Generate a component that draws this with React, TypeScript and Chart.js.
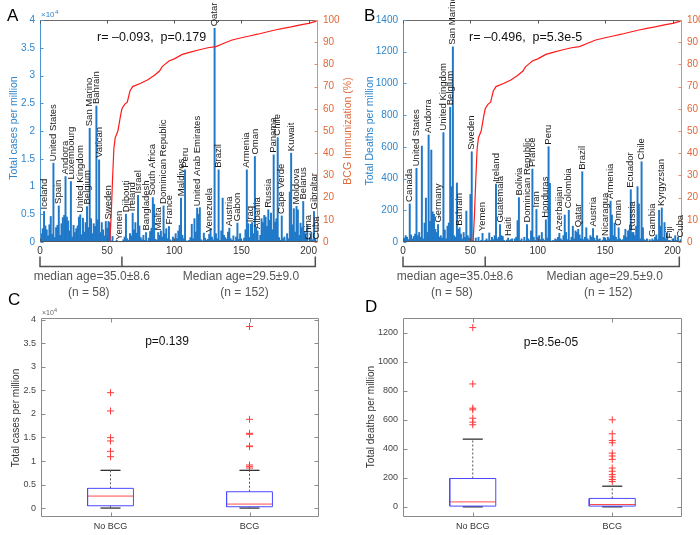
import React, { useEffect, useRef } from 'react';
import { Chart, registerables } from 'chart.js';

Chart.register(...registerables);

const FONT = '"Liberation Sans", Arial, Helvetica, sans-serif';
Chart.defaults.font.family = FONT;

// ---------------- data ----------------
// countries sorted by BCG immunization coverage (rank 0..206)
const casesPerMillion: number[] = [
  300, 1500, 2400, 5500, 2900, 2200, 1100, 3100, 4600, 1400,
  14200, 800, 2600, 3000, 6500, 1200, 3300, 4400, 4800, 11800,
  4500, 3800, 2000, 10900, 900, 3000, 1700, 2400, 2900, 4500,
  4900, 1300, 4300, 1800, 3500, 6400, 2600, 20500, 4200, 1500,
  3300, 2800, 24500, 4000, 14800, 1700, 3500, 2200, 1100, 3700,
  2500, 3700, 3500, 200, 1000, 50, 80, 300, 150, 20,
  100, 60, 400, 900, 5000, 600, 300, 1500, 1100, 5200,
  2200, 3500, 1600, 8400, 2900, 800, 400, 1200, 300, 1700,
  200, 700, 1900, 2500, 8000, 6800, 500, 300, 1700, 1200,
  2000, 900, 6500, 1500, 2400, 600, 2800, 400, 200, 900,
  300, 1500, 600, 2000, 3000, 7900, 1200, 600, 13000, 200,
  150, 300, 800, 3200, 600, 4200, 1800, 6100, 5000, 6200,
  400, 200, 1600, 700, 300, 500, 1400, 2300, 900, 400,
  38500, 1500, 600, 13000, 300, 2000, 7900, 1200, 800, 500,
  1800, 2500, 600, 300, 1100, 200, 900, 3400, 500, 1500,
  400, 100, 700, 2200, 13000, 3300, 800, 3200, 3500, 1500,
  15400, 2600, 2000, 300, 1200, 4200, 3500, 4800, 4500, 2800,
  5800, 3900, 5200, 2200, 15700, 3600, 4200, 18800, 800, 300,
  4700, 600, 900, 200, 1500, 600, 9000, 16000, 3100, 6000,
  1800, 6400, 5800, 1200, 3400, 2600, 7300, 1900, 900, 3000,
  60, 800, 1800, 400, 5500, 600, 150,
];

const deathsPerMillion: number[] = [
  10, 25, 40, 30, 15, 240, 45, 20, 35, 50,
  465, 40, 60, 30, 605, 20, 120, 277, 60, 675,
  130, 580, 190, 175, 80, 60, 110, 30, 40, 25,
  690, 76, 20, 100, 120, 850, 349, 1231, 40, 30,
  372, 80, 90, 50, 20, 60, 30, 195, 40, 25,
  300, 569, 10, 5, 25, 2, 30, 5, 10, 55,
  5, 10, 20, 8, 57, 10, 30, 15, 40, 365,
  20, 30, 110, 40, 35, 10, 5, 12, 25, 10,
  15, 20, 5, 20, 30, 135, 280, 10, 20, 5,
  30, 8, 110, 20, 10, 70, 460, 30, 10, 205,
  30, 40, 15, 60, 20, 10, 140, 25, 601, 370,
  5, 10, 8, 20, 15, 30, 55, 20, 10, 40,
  170, 60, 15, 200, 10, 30, 100, 20, 70, 60,
  80, 45, 20, 443, 15, 30, 90, 20, 10, 40,
  30, 85, 25, 10, 40, 15, 20, 5, 12, 30,
  25, 10, 30, 20, 258, 170, 40, 120, 30, 15,
  90, 20, 10, 15, 40, 80, 30, 70, 75, 330,
  60, 60, 40, 100, 349, 240, 20, 506, 90, 15,
  10, 20, 5, 15, 8, 20, 10, 30, 45, 15,
  200, 100, 215, 30, 123, 20, 60, 10, 10, 5,
  20, 8, 40, 10, 30, 5, 15,
];

const caseLabels: [number, string][] = [
  [3, 'Iceland'], [10, 'United States'], [14, 'Spain'], [19, 'Andorra'], [23, 'Luxembourg'],
  [30, 'United Kingdom'], [35, 'Belgium'], [37, 'San Marino'], [42, 'Bahrain'], [44, 'Vatican'],
  [51, 'Sweden'], [59, 'Yemen'], [64, 'Djibouti'], [69, 'Ireland'], [73, 'Israel'],
  [79, 'Bangladesh'], [84, 'South Africa'], [88, 'Malta'], [92, 'Dominican Republic'], [96, 'France'],
  [105, 'Maldives'], [108, 'Peru'], [117, 'United Arab Emirates'], [126, 'Venezuela'], [130, 'Qatar'],
  [133, 'Brazil'], [141, 'Austria'], [147, 'Gabon'], [154, 'Armenia'], [157, 'Iraq'],
  [160, 'Oman'], [162, 'Albania'], [170, 'Russia'], [174, 'Panama'], [177, 'Chile'],
  [180, 'Cape Verde'], [187, 'Kuwait'], [191, 'Moldova'], [196, 'Belarus'], [200, 'China'],
  [204, 'Gibraltar'], [206, 'Cuba'],
];

const deathLabels: [number, string][] = [
  [5, 'Canada'], [10, 'United States'], [19, 'Andorra'], [26, 'Germany'], [30, 'United Kingdom'],
  [35, 'Belgium'], [37, 'San Marino'], [42, 'Bahrain'], [51, 'Sweden'], [59, 'Yemen'],
  [69, 'Ireland'], [72, 'Guatemala'], [78, 'Haiti'], [86, 'Bolivia'], [92, 'Dominican Republic'],
  [96, 'France'], [99, 'Iran'], [106, 'Honduras'], [108, 'Peru'], [116, 'Azerbaijan'],
  [123, 'Colombia'], [130, 'Qatar'], [133, 'Brazil'], [141, 'Austria'], [150, 'Nicaragua'],
  [154, 'Armenia'], [160, 'Oman'], [169, 'Ecuador'], [170, 'Russia'], [177, 'Chile'],
  [185, 'Gambia'], [192, 'Kyrgyzstan'], [198, 'Fiji'], [206, 'Cuba'],
];

const bcgRank: number[] = [0, 52, 53, 54, 55, 56, 58, 60, 61, 63, 65, 67, 69, 75, 80, 85, 89, 91, 93, 96,
  100, 106, 112, 118, 125, 131, 137, 143, 150, 156, 162, 168, 175, 181, 187, 193, 200, 206];
const bcgCoverage: number[] = [0, 0, 12, 28, 42, 47, 50, 57, 60, 62, 63, 68, 70, 71.5, 73, 75, 77, 79, 80, 81.5,
  82.5, 84.5, 85.5, 86.5, 87.5, 88, 89.5, 91, 92, 92.8, 93.6, 94.5, 95.5, 96.2, 96.9, 97.7, 98.5, 99.5];

const groupText = ['median age=35.0±8.6', 'Median age=29.5±9.0'];
const groupCount = ['(n = 58)', '(n = 152)'];
const bracketRanks = [0, 61, 205];
const groupTextRank = [38.6, 149.6];
const groupCountRank = [36.3, 152.3];

const rankTicks = [0, 50, 100, 150, 200];
const caseTicks = [0, 5000, 10000, 15000, 20000, 25000, 30000, 35000, 40000];
const deathTicks = [0, 200, 400, 600, 800, 1000, 1200, 1400];
const deathBoxTicks = [0, 200, 400, 600, 800, 1000, 1200];
const bcgTicks = [0, 10, 20, 30, 40, 50, 60, 70, 80, 90, 100];

const boxGroups = ['No BCG', 'BCG'];
const caseQ1 = [490, 280];
const caseMedian = [2550, 850];
const caseQ3 = [4190, 3470];
const caseLow = [0, 0];
const caseHigh = [8020, 8020];
const caseOutliers: number[][] = [
  [24530, 20640, 14960, 14260, 12060, 10920],
  [38580, 18870, 15890, 15680, 13190, 13050, 9150, 8800, 8500],
];
const deathQ1 = [5, 5];
const deathMedian = [34, 16];
const deathQ3 = [195, 58];
const deathLow = [0, 0];
const deathHigh = [466, 142];
const deathOutliers: number[][] = [
  [1234, 846, 679, 668, 610, 583, 565],
  [599, 503, 457, 441, 370, 350, 327, 267, 245, 222, 206, 188, 174],
];

// ---------------- helpers ----------------
type TextItem = { t: string; x: number; y: number; size: number; color: string; align?: CanvasTextAlign; rot?: boolean };

function textPlugin(items: TextItem[]) {
  return {
    id: 'texts',
    afterDraw(chart: any) {
      const ctx = chart.ctx as CanvasRenderingContext2D;
      for (const it of items) {
        ctx.save();
        ctx.font = `${it.size}px ${FONT}`;
        ctx.fillStyle = it.color;
        ctx.textAlign = it.align || 'left';
        ctx.textBaseline = 'middle';
        ctx.translate(it.x, it.y);
        if (it.rot) ctx.rotate(-Math.PI / 2);
        ctx.fillText(it.t, 0, 0);
        ctx.restore();
      }
    },
  };
}

type FrameCfg = {
  left: string; right: string; top: string; bottom: string;
  xTicks: number[]; yTicks: number[]; y1Ticks?: number[]; yMirror: boolean; tick: number;
  leftTick: string; rightTick: string; xTick: string;
};

function framePlugin(c: FrameCfg) {
  return {
    id: 'frame',
    afterDatasetsDraw(chart: any) {
      const { ctx, chartArea: a, scales } = chart;
      const L = Math.round(a.left) + 0.5, R = Math.round(a.right) - 0.5;
      const T = Math.round(a.top) + 0.5, B = Math.round(a.bottom) - 0.5;
      const seg = (x1: number, y1: number, x2: number, y2: number, col: string) => {
        ctx.strokeStyle = col; ctx.beginPath(); ctx.moveTo(x1, y1); ctx.lineTo(x2, y2); ctx.stroke();
      };
      ctx.save();
      ctx.lineWidth = 1;
      seg(L, T, R, T, c.top);
      seg(L, B, R, B, c.bottom);
      seg(L, T, L, B, c.left);
      seg(R, T, R, B, c.right);
      c.xTicks.forEach((v) => {
        const px = Math.round(scales.x.getPixelForValue(v)) + 0.5;
        seg(px, B, px, B - c.tick, c.xTick);
        seg(px, T, px, T + c.tick, c.xTick);
      });
      c.yTicks.forEach((v) => {
        const py = Math.round(scales.y.getPixelForValue(v)) + 0.5;
        seg(L, py, L + c.tick, py, c.leftTick);
        if (c.yMirror) seg(R, py, R - c.tick, py, c.rightTick);
      });
      if (c.y1Ticks && scales.y1) {
        c.y1Ticks.forEach((v) => {
          const py = Math.round(scales.y1.getPixelForValue(v)) + 0.5;
          seg(R, py, R - c.tick, py, c.rightTick);
        });
      }
      ctx.restore();
    },
  };
}

function countryLabelPlugin(labels: [number, string][], values: number[]) {
  return {
    id: 'countryLabels',
    afterDatasetsDraw(chart: any) {
      const { ctx, scales } = chart;
      ctx.save();
      ctx.font = `9.5px ${FONT}`;
      ctx.fillStyle = '#1a1a1a';
      ctx.textAlign = 'left';
      ctx.textBaseline = 'middle';
      for (const [i, name] of labels) {
        const px = scales.x.getPixelForValue(i);
        const py = scales.y.getPixelForValue(values[i]);
        ctx.save();
        ctx.translate(px, py - 2);
        ctx.rotate(-Math.PI / 2);
        ctx.fillText(name, 0, 0);
        ctx.restore();
      }
      ctx.restore();
    },
  };
}

function bracketPlugin() {
  return {
    id: 'bracket',
    afterDraw(chart: any) {
      const { ctx, scales } = chart;
      const x = scales.x;
      const px = bracketRanks.map((v) => x.getPixelForValue(v));
      const yb = 266.5, yt = 256.5;
      ctx.save();
      ctx.strokeStyle = '#505050';
      ctx.lineWidth = 1.5;
      ctx.beginPath();
      ctx.moveTo(px[0], yb);
      ctx.lineTo(px[px.length - 1], yb);
      px.forEach((p) => { ctx.moveTo(p, yb + 0.75); ctx.lineTo(p, yt); });
      ctx.stroke();
      ctx.font = `12px ${FONT}`;
      ctx.fillStyle = '#555';
      ctx.textAlign = 'center';
      ctx.textBaseline = 'middle';
      groupText.forEach((t, i) => ctx.fillText(t, x.getPixelForValue(groupTextRank[i]), 277));
      groupCount.forEach((t, i) => ctx.fillText(t, x.getPixelForValue(groupCountRank[i]), 293));
      ctx.restore();
    },
  };
}

const LBLUE = '#2f86cc';
const LORANGE = '#e0683a';

function makeBarChart(
  canvas: HTMLCanvasElement, values: number[], labels: [number, string][],
  yTicks: number[], yMax: number, yFmt: (v: number) => string,
  yWidth: number, y1Width: number, texts: TextItem[],
) {
  return new Chart(canvas, {
    type: 'bar',
    data: {
      datasets: [
        {
          type: 'line', label: 'BCG',
          data: bcgRank.map((r, i) => ({ x: r, y: bcgCoverage[i] })),
          yAxisID: 'y1', borderColor: '#ff1a1a', borderWidth: 1.2, pointRadius: 0, order: 0,
        } as any,
        {
          type: 'bar', label: 'value',
          data: values.map((v, i) => ({ x: i, y: v })),
          yAxisID: 'y', backgroundColor: '#1f78c8', barThickness: 1.3, order: 1,
        } as any,
      ],
    },
    options: {
      animation: false,
      responsive: false,
      maintainAspectRatio: false,
      layout: { padding: { left: 0, right: 0, top: 20, bottom: 0 } },
      plugins: { legend: { display: false }, tooltip: { enabled: false } },
      scales: {
        x: {
          type: 'linear', min: 0, max: 207, offset: false,
          grid: { display: false, drawTicks: false, offset: false }, border: { display: false },
          afterBuildTicks: (s: any) => { s.ticks = rankTicks.map((value) => ({ value })); },
          afterFit: (s: any) => { s.height = 58; },
          ticks: { font: { size: 10 }, color: '#333', padding: 3, maxRotation: 0 },
        },
        y: {
          position: 'left', min: 0, max: yMax,
          grid: { display: false, drawTicks: false }, border: { display: false },
          afterBuildTicks: (s: any) => { s.ticks = yTicks.map((value) => ({ value })); },
          afterFit: (s: any) => { s.width = yWidth; },
          ticks: { font: { size: 10 }, color: LBLUE, padding: 5, callback: (v: any) => yFmt(Number(v)) },
        },
        y1: {
          position: 'right', min: 0, max: 100,
          grid: { display: false, drawTicks: false }, border: { display: false },
          afterBuildTicks: (s: any) => { s.ticks = bcgTicks.map((value) => ({ value })); },
          afterFit: (s: any) => { s.width = y1Width; },
          ticks: { font: { size: 10 }, color: LORANGE, padding: 5 },
        },
      } as any,
    },
    plugins: [
      framePlugin({
        left: '#4a95d3', right: '#e88a66', top: '#6a6a6a', bottom: '#555',
        xTicks: rankTicks, yTicks, y1Ticks: bcgTicks, yMirror: false, tick: 3,
        leftTick: '#4a95d3', rightTick: '#e88a66', xTick: '#555',
      }),
      countryLabelPlugin(labels, values),
      bracketPlugin(),
      textPlugin(texts),
    ],
  });
}

function boxDatasets(q1: number[], med: number[], q3: number[], lo: number[], hi: number[], outs: number[][]) {
  const ds: any[] = [];
  const hw = 0.165, cw = 0.072;
  const lineDs = (pts: { x: number; y: number }[], color: string, extra: any = {}) => ({
    data: pts, showLine: true, borderColor: color, borderWidth: 1, pointRadius: 0, fill: false, ...extra,
  });
  q1.forEach((_, g) => {
    const c = g + 1;
    ds.push(lineDs([
      { x: c - hw, y: q1[g] }, { x: c + hw, y: q1[g] }, { x: c + hw, y: q3[g] },
      { x: c - hw, y: q3[g] }, { x: c - hw, y: q1[g] },
    ], '#4a4aff'));
    ds.push(lineDs([{ x: c - hw, y: med[g] }, { x: c + hw, y: med[g] }], '#ff4a4a'));
    ds.push(lineDs([{ x: c, y: q3[g] }, { x: c, y: hi[g] }], '#555', { borderDash: [2, 2] }));
    ds.push(lineDs([{ x: c, y: q1[g] }, { x: c, y: lo[g] }], '#555', { borderDash: [2, 2] }));
    ds.push(lineDs([{ x: c - cw, y: hi[g] }, { x: c + cw, y: hi[g] }], '#333', { borderWidth: 1.3 }));
    ds.push(lineDs([{ x: c - cw, y: lo[g] }, { x: c + cw, y: lo[g] }], '#333', { borderWidth: 1.3 }));
    ds.push({
      data: outs[g].map((v) => ({ x: c, y: v })), showLine: false,
      pointStyle: 'cross', pointRadius: 3.5, borderColor: '#ff3b3b', backgroundColor: '#ff3b3b', borderWidth: 1,
    });
  });
  return ds;
}

function makeBoxChart(
  canvas: HTMLCanvasElement, datasets: any[], yMin: number, yMax: number, yTicks: number[],
  yFmt: (v: number) => string, yWidth: number, padRight: number, texts: TextItem[],
) {
  return new Chart(canvas, {
    type: 'scatter',
    data: { datasets },
    options: {
      animation: false,
      responsive: false,
      maintainAspectRatio: false,
      layout: { padding: { left: 0, right: padRight, top: 28, bottom: 0 } },
      plugins: { legend: { display: false }, tooltip: { enabled: false } },
      scales: {
        x: {
          type: 'linear', min: 0.5, max: 2.5,
          grid: { display: false, drawTicks: false }, border: { display: false },
          afterBuildTicks: (s: any) => { s.ticks = [1, 2].map((value) => ({ value })); },
          afterFit: (s: any) => { s.height = 18; },
          ticks: { font: { size: 9 }, color: '#333', padding: 4, maxRotation: 0, callback: (_v: any, i: number) => boxGroups[i] },
        },
        y: {
          type: 'linear', min: yMin, max: yMax,
          grid: { display: false, drawTicks: false }, border: { display: false },
          afterBuildTicks: (s: any) => { s.ticks = yTicks.map((value) => ({ value })); },
          afterFit: (s: any) => { s.width = yWidth; },
          ticks: { font: { size: 9 }, color: '#444', padding: 5, callback: (v: any) => yFmt(Number(v)) },
        },
      } as any,
    },
    plugins: [
      framePlugin({
        left: '#8a8a8a', right: '#8a8a8a', top: '#8a8a8a', bottom: '#8a8a8a',
        xTicks: [1, 2], yTicks, yMirror: true, tick: 4,
        leftTick: '#8a8a8a', rightTick: '#8a8a8a', xTick: '#8a8a8a',
      }),
      textPlugin(texts),
    ],
  });
}

const fmt1e4 = (v: number) => String(v / 10000);
const fmtPlain = (v: number) => String(v);

export default function App() {
  const refA = useRef<HTMLCanvasElement>(null);
  const refB = useRef<HTMLCanvasElement>(null);
  const refC = useRef<HTMLCanvasElement>(null);
  const refD = useRef<HTMLCanvasElement>(null);

  useEffect(() => {
    const charts: Chart[] = [];
    charts.push(makeBarChart(refA.current!, casesPerMillion, caseLabels, caseTicks, 40000, fmt1e4, 40, 40, [
      { t: 'A', x: 7, y: 16, size: 17, color: '#000' },
      { t: 'Total cases per million', x: 14, y: 128, size: 10.5, color: LBLUE, align: 'center', rot: true },
      { t: 'BCG Immunization (%)', x: 348, y: 131, size: 10.5, color: LORANGE, align: 'center', rot: true },
      { t: '×10', x: 41, y: 15, size: 8, color: LBLUE },
      { t: '4', x: 55, y: 12, size: 6, color: LBLUE },
      { t: 'r= –0.093,  p=0.179', x: 97, y: 38, size: 12.5, color: '#111' },
    ]));
    charts.push(makeBarChart(refB.current!, deathsPerMillion, deathLabels, deathTicks, 1400, fmtPlain, 48, 18, [
      { t: 'B', x: 9, y: 16, size: 17, color: '#000' },
      { t: 'Total Deaths per million', x: 15, y: 131, size: 10.5, color: LBLUE, align: 'center', rot: true },
      { t: 'r= –0.496,  p=5.3e-5', x: 114, y: 38, size: 12.5, color: '#111' },
    ]));
    charts.push(makeBoxChart(
      refC.current!,
      boxDatasets(caseQ1, caseMedian, caseQ3, caseLow, caseHigh, caseOutliers),
      -1900, 40400, caseTicks, fmt1e4, 41, 31,
      [
        { t: 'C', x: 8, y: 10, size: 17, color: '#000' },
        { t: 'Total cases per million', x: 16, y: 128, size: 10, color: '#333', align: 'center', rot: true },
        { t: '×10', x: 42, y: 23, size: 7, color: '#666' },
        { t: '4', x: 54, y: 20, size: 5.5, color: '#666' },
        { t: 'p=0.139', x: 167, y: 52, size: 12, color: '#111', align: 'center' },
      ],
    ));
    charts.push(makeBoxChart(
      refD.current!,
      boxDatasets(deathQ1, deathMedian, deathQ3, deathLow, deathHigh, deathOutliers),
      -70, 1300, deathBoxTicks, fmtPlain, 48, 18,
      [
        { t: 'D', x: 10, y: 17, size: 17, color: '#000' },
        { t: 'Total deaths per million', x: 16, y: 127, size: 10, color: '#333', align: 'center', rot: true },
        { t: 'p=8.5e-05', x: 196, y: 53, size: 12, color: '#111', align: 'center' },
      ],
    ));
    return () => { charts.forEach((c) => c.destroy()); };
  }, []);

  return (
    <div style={{ position: 'fixed', left: 0, top: 0, width: 700, height: 535, background: '#fff', overflow: 'hidden' }}>
      <canvas ref={refA} width={358} height={300} style={{ position: 'absolute', left: 0, top: 0 }} />
      <canvas ref={refB} width={345} height={300} style={{ position: 'absolute', left: 355, top: 0 }} />
      <canvas ref={refC} width={350} height={245} style={{ position: 'absolute', left: 0, top: 290 }} />
      <canvas ref={refD} width={345} height={245} style={{ position: 'absolute', left: 355, top: 290 }} />
    </div>
  );
}
